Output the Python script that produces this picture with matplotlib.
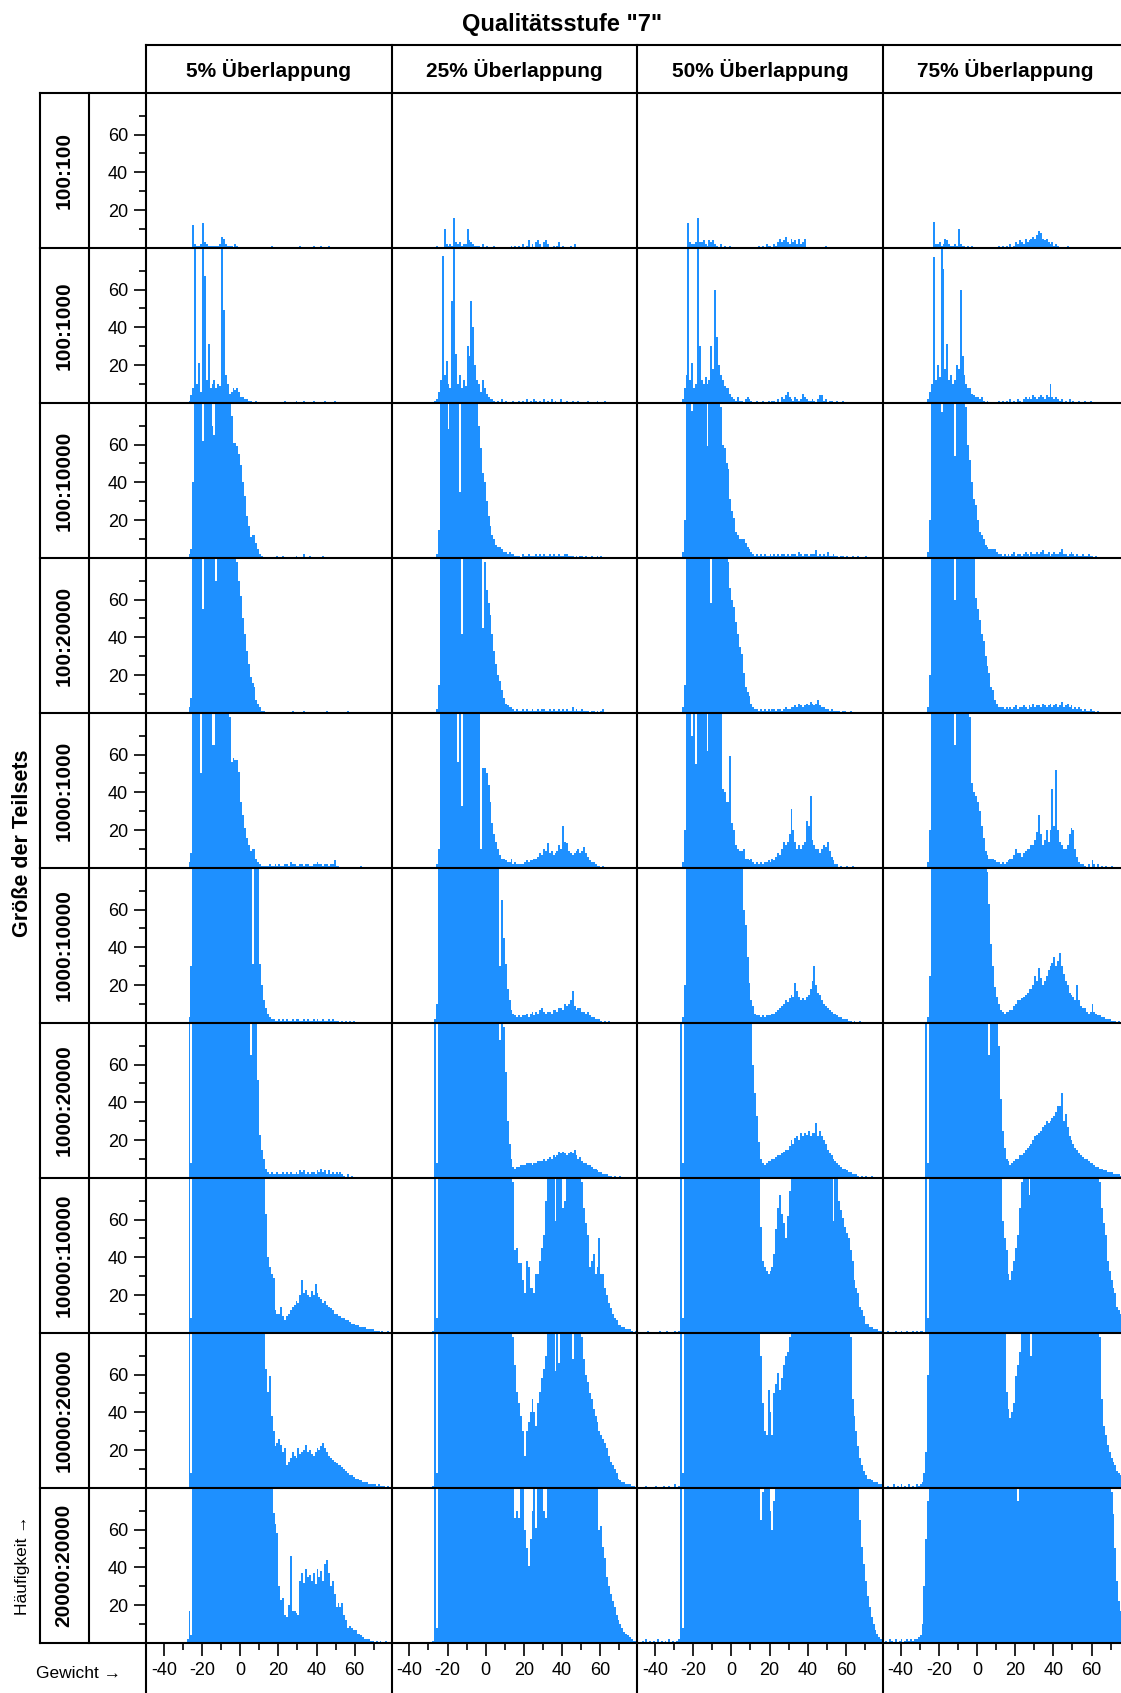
import numpy as np
import matplotlib
matplotlib.use("Agg")
import matplotlib.pyplot as plt

plt.rcParams["font.family"] = ["Liberation Sans", "DejaVu Sans"]

# ---------------------------------------------------------------- texts
title = 'Qualitätsstufe "7"'
overlaps = ["5% Überlappung", "25% Überlappung", "50% Überlappung", "75% Überlappung"]
subset_sizes = ["100:100", "100:1000", "100:10000", "100:20000", "1000:1000",
                "1000:10000", "1000:20000", "10000:10000", "10000:20000", "20000:20000"]
x_label = "Gewicht \u2192"
y_label = "Häufigkeit \u2192"
row_title = "Größe der Teilsets"

# histogram bins: width 1, from -48 to 80 (128 bins); counts above 82 run off the panel
bin_edges = np.arange(-48, 81)
x_major = [-40, -20, 0, 20, 40, 60]
x_minor = [-30, -10, 10, 30, 50, 70]
y_major = [20, 40, 60]
y_minor = [10, 30, 50, 70]

# ---------------------------------------------------------------- counts per subset size, one list per overlap
row_100_100 = [
    [0,0,0,0,0,0,0,0, 0,0,0,0,0,0,0,0, 0,0,0,0,0,0,0,12, 2,1,1,2,13,3,2,1,
     1,1,1,1,1,2,6,5, 2,1,1,1,0,2,1,0, 0,0,0,0,0,0,0,0, 0,0,0,0,0,0,0,0,
     1,0,0,0,0,0,0,0, 0,0,0,0,0,0,0,1, 0,0,0,0,0,0,1,0, 0,0,1,0,0,0,1,0,
     0,0,0,0,0,0,0,0, 0,0,0,0,0,0,0,0, 0,0,0,0,0,0,0,0, 0,0,0,0,0,0,0,0],
    [0,0,0,0,0,0,0,0, 0,0,0,0,0,0,0,0, 0,0,0,0,0,0,1,0, 0,0,10,2,1,2,1,16,
     3,2,3,1,2,2,10,4, 3,2,1,1,1,0,2,0, 1,0,0,0,1,0,0,0, 0,0,0,0,0,1,0,1,
     0,1,0,2,0,1,4,0, 2,0,3,4,2,0,3,4, 2,0,0,1,0,1,3,0, 1,0,0,0,1,0,2,0,
     0,0,0,0,0,0,0,0, 0,0,0,0,0,0,0,0, 0,0,0,0,0,0,0,0, 0,0,0,0,0,0,0,0],
    [0,0,0,0,0,0,0,0, 0,0,0,0,0,0,0,0, 0,0,0,0,0,0,0,0, 0,13,3,2,2,3,16,3,
     3,4,2,1,4,3,4,2, 1,0,2,0,1,0,0,1, 0,0,0,0,0,0,0,0, 0,0,0,0,0,0,1,0,
     1,0,2,1,1,0,2,1, 3,5,3,4,6,3,2,5, 3,4,2,5,2,3,5,0, 0,0,0,0,0,0,0,0,
     0,1,0,0,0,0,0,0, 0,0,0,0,0,0,0,0, 0,0,0,0,0,0,0,0, 0,0,0,0,0,0,0,0],
    [0,0,0,0,0,0,0,0, 0,0,0,0,0,0,0,0, 0,0,0,0,0,0,0,0, 0,14,2,2,3,1,2,5,
     4,2,1,1,2,1,10,2, 1,1,0,1,0,1,0,0, 0,0,0,0,0,0,0,0, 0,0,0,1,0,1,0,1,
     0,2,0,1,3,2,4,3, 2,5,3,4,5,6,5,7, 9,8,5,4,5,3,2,3, 1,2,1,0,0,0,0,1,
     0,0,0,0,0,0,0,0, 0,0,0,0,0,0,0,0, 0,0,0,0,0,0,0,0, 0,0,0,0,0,0,0,0],
]

row_100_1000 = [
    [0,0,0,0,0,0,0,0, 0,0,0,0,0,0,0,0, 0,0,0,0,0,1,4,8, 99,10,21,6,99,67,12,31,
     8,10,12,8,10,9,99,49, 15,10,5,6,8,7,8,6, 3,3,2,2,1,1,0,0, 1,0,0,0,0,0,0,0,
     0,0,0,0,0,0,0,1, 0,0,0,0,0,1,0,0, 0,1,0,0,0,0,1,0, 0,0,0,0,1,0,0,0,
     0,1,0,0,0,0,0,0, 0,0,0,0,0,0,0,0, 0,0,0,0,0,0,0,0, 0,0,0,0,0,0,0,0],
    [0,0,0,0,0,0,0,0, 0,0,0,0,0,0,0,0, 0,0,0,0,0,1,2,6, 12,78,15,22,10,8,54,99,
     26,10,15,8,12,9,30,25, 54,40,20,12,10,6,12,8, 5,3,2,2,1,0,1,0, 2,0,1,0,0,0,1,0,
     0,1,0,1,0,2,0,1, 0,2,1,0,1,0,2,0, 1,0,2,0,1,0,0,2, 0,0,1,0,0,1,0,0,
     1,0,0,0,0,1,0,0, 0,0,1,0,0,0,1,0, 0,0,0,0,0,0,0,0, 0,0,0,0,0,0,0,0],
    [0,0,0,0,0,0,0,0, 0,0,0,0,0,0,0,0, 0,0,0,0,0,0,2,8, 15,99,12,21,8,10,99,30,
     12,10,14,10,12,30,18,60, 35,20,15,12,9,8,8,5, 3,2,1,3,1,1,0,2, 3,2,1,0,0,1,0,0,
     1,0,0,1,0,1,1,0, 2,0,3,2,4,6,3,2, 1,3,2,1,2,5,3,2, 1,1,2,1,0,2,4,4,
     1,2,0,1,1,0,0,1, 0,0,1,0,0,0,0,0, 0,0,0,0,0,0,0,0, 0,0,0,0,0,0,0,0],
    [0,0,0,0,0,0,0,0, 0,0,0,0,0,0,0,0, 0,0,0,0,0,0,2,6, 10,77,12,20,14,99,71,18,
     31,12,15,10,12,20,18,60, 25,15,10,8,8,5,4,3, 3,2,3,1,0,1,0,0, 0,0,0,1,0,1,0,1,
     0,2,0,1,0,2,1,0, 2,3,2,3,2,4,3,2, 3,4,3,2,4,3,10,3, 2,3,2,1,2,0,1,0,
     2,0,1,0,0,1,0,0, 1,0,0,1,0,0,0,0, 0,0,0,0,0,0,0,0, 0,0,0,0,0,0,0,0],
]

row_100_10000 = [
    [0,0,0,0,0,0,0,0, 0,0,0,0,0,0,0,0, 0,0,0,0,0,2,5,40, 99,99,99,99,62,99,99,99,
     99,70,65,99,99,99,99,99, 99,99,99,75,61,61,59,55, 49,40,33,22,17,11,12,12, 8,5,2,1,0,0,0,0,
     0,0,0,1,0,0,1,0, 0,0,0,0,0,1,0,0, 0,2,0,0,1,0,0,0, 0,0,0,1,0,0,0,0,
     0,0,0,0,0,0,0,0, 0,0,0,0,0,0,0,0, 0,0,0,0,0,0,0,0, 0,0,0,0,0,0,0,0],
    [0,0,0,0,0,0,0,0, 0,0,0,0,0,0,0,0, 0,0,0,0,0,0,2,15, 99,99,99,99,68,99,99,99,
     99,99,35,99,99,99,99,99, 99,99,99,99,70,58,45,40, 30,22,17,12,10,7,6,6, 5,3,3,2,3,2,2,1,
     1,1,0,2,1,1,2,1, 1,1,2,1,2,1,2,1, 1,2,1,2,1,1,2,1, 1,2,2,1,1,1,0,1,
     0,1,1,0,1,0,0,1, 0,0,1,0,1,0,0,0, 0,0,0,0,0,0,0,0, 0,0,0,0,0,0,0,0],
    [0,0,0,0,0,0,0,0, 0,0,0,0,0,0,0,0, 0,0,0,0,0,0,3,20, 99,99,99,78,99,99,99,99,
     99,99,99,59,99,99,99,99, 99,99,80,60,58,50,47,31, 25,21,14,12,10,10,10,8, 6,5,3,2,1,2,1,2,
     1,2,1,1,2,1,2,1, 2,1,2,2,1,2,1,2, 2,2,1,3,2,1,2,2, 1,2,2,2,4,1,2,1,
     2,1,3,1,1,2,1,1, 0,1,1,0,1,0,0,1, 0,0,1,0,0,0,1,0, 0,0,0,0,0,0,0,0],
    [0,0,0,0,0,0,0,0, 0,0,0,0,0,0,0,0, 0,0,0,0,0,0,3,20, 99,99,99,99,99,77,99,99,
     99,99,99,99,54,99,99,99, 99,99,80,60,52,40,31,28, 20,14,12,10,7,6,5,5, 5,5,3,2,2,1,2,1,
     2,1,2,3,1,2,2,1, 2,3,2,1,3,2,2,3, 2,3,4,2,2,3,1,2, 3,2,2,3,5,2,2,1,
     2,3,2,1,2,1,1,2, 1,1,2,1,1,0,1,0, 0,0,0,0,0,0,0,0, 0,0,0,0,0,0,0,0],
]

row_100_20000 = [
    [0,0,0,0,0,0,0,0, 0,0,0,0,0,0,0,0, 0,0,0,0,0,3,8,99, 99,99,99,99,55,99,99,99,
     99,99,99,70,99,99,99,99, 99,99,99,99,99,90,80,70, 62,50,42,33,26,19,16,14, 7,5,3,1,1,0,0,0,
     0,0,0,0,0,0,0,0, 0,0,0,1,0,0,0,0, 0,1,0,0,0,0,0,0, 0,0,0,0,0,1,0,0,
     0,0,0,0,0,0,0,0, 1,0,0,0,0,0,0,0, 0,0,0,0,0,0,0,0, 0,0,0,0,0,0,0,0],
    [0,0,0,0,0,0,0,0, 0,0,0,0,0,0,0,0, 0,0,0,0,0,0,2,15, 99,99,99,99,99,99,99,99,
     99,99,99,42,99,99,99,99, 99,99,99,99,99,99,45,80, 65,58,52,42,33,26,20,17, 12,8,5,4,3,3,2,1,
     2,1,1,2,1,2,1,1, 2,1,1,2,1,2,2,1, 1,2,1,2,1,1,2,1, 2,1,2,1,1,3,1,2,
     1,1,2,1,1,1,0,1, 1,0,1,0,1,2,0,0, 0,0,0,0,0,0,0,0, 0,0,0,0,0,0,0,0],
    [0,0,0,0,0,0,0,0, 0,0,0,0,0,0,0,0, 0,0,0,0,0,0,3,15, 99,99,99,99,99,99,99,99,
     99,99,99,99,99,58,99,99, 99,99,99,99,99,99,80,66, 60,56,48,42,35,31,21,14, 11,9,5,3,2,2,1,2,
     1,2,1,2,1,2,2,1, 2,2,1,2,3,2,2,3, 3,4,3,5,4,3,4,5, 4,6,5,4,5,7,4,3,
     3,2,2,1,2,1,1,1, 1,0,1,1,0,0,1,0, 0,0,0,0,0,0,0,0, 0,0,0,0,0,0,0,0],
    [0,0,0,0,0,0,0,0, 0,0,0,0,0,0,0,0, 0,0,0,0,0,0,3,20, 99,99,99,99,99,99,99,99,
     99,99,99,99,60,99,99,99, 99,99,99,99,99,99,85,61, 55,49,42,38,30,25,21,14, 12,7,5,3,3,3,2,3,
     2,3,2,3,4,2,3,3, 4,3,2,4,3,5,3,4, 4,3,5,4,3,4,5,3, 4,5,3,4,6,3,4,5,
     3,4,2,3,2,3,2,1, 2,1,1,2,1,1,0,1, 0,0,0,0,0,0,0,0, 0,0,0,0,0,0,0,0],
]

row_1000_1000 = [
    [0,0,0,0,0,0,0,0, 0,0,0,0,0,0,0,0, 0,0,0,0,0,3,8,99, 99,99,99,50,99,99,99,99,
     99,65,65,99,99,99,99,99, 99,99,80,56,58,57,57,51, 35,28,21,16,12,9,10,10, 5,3,2,1,1,1,1,2,
     1,1,2,1,2,1,1,2, 2,1,3,2,2,1,1,2, 2,1,2,2,1,1,2,2, 3,2,2,1,2,2,1,2,
     2,4,1,1,0,0,0,0, 0,0,0,0,0,0,0,1, 0,0,0,0,0,0,0,0, 0,0,0,0,0,0,0,0],
    [0,0,0,0,0,0,0,0, 0,0,0,0,0,0,0,0, 0,0,0,0,0,0,2,10, 99,99,99,99,99,99,99,99,
     99,56,99,33,99,99,99,99, 99,99,99,99,99,10,53,53, 50,44,35,24,18,14,10,7, 5,5,4,3,3,5,2,3,
     2,2,2,2,3,4,3,4, 4,5,5,6,8,7,10,9, 13,8,9,7,8,9,12,10, 22,14,13,9,8,7,8,9,
     10,8,9,11,8,6,4,3, 3,2,1,1,0,1,0,0, 0,0,0,0,0,0,0,0, 0,0,0,0,0,0,0,0],
    [0,0,0,0,0,0,0,0, 0,0,0,0,0,0,0,0, 0,0,0,0,0,0,3,20, 99,99,99,70,99,55,99,99,
     99,99,99,62,99,99,99,99, 99,99,99,42,40,35,35,59, 24,20,12,10,9,9,10,5, 5,4,5,3,2,3,2,3,
     2,3,3,4,3,5,4,6, 8,7,10,14,12,14,18,31, 20,14,10,12,10,12,14,25, 22,38,15,12,10,10,8,10,
     12,11,14,9,6,4,2,2, 0,1,0,0,1,0,0,1, 0,0,0,0,0,0,0,0, 0,0,0,0,0,0,0,0],
    [0,0,0,0,0,0,0,0, 0,0,0,0,0,0,0,0, 0,0,0,0,0,0,3,20, 99,99,99,99,99,99,99,99,
     99,99,99,99,65,99,99,99, 99,99,99,99,80,45,40,38, 35,30,22,16,9,7,5,5, 5,4,3,3,2,3,2,3,
     4,5,5,7,10,8,8,6, 8,9,10,10,12,12,15,19, 28,18,12,15,20,14,20,42, 22,52,20,14,12,10,10,12,
     18,21,20,10,6,3,2,2, 1,0,2,0,4,2,0,2, 0,1,0,1,0,0,1,0, 0,0,0,0,0,0,0,0],
]

row_1000_10000 = [
    [0,0,0,0,0,0,0,0, 0,0,0,0,0,0,0,0, 0,0,0,0,0,3,30,99, 99,99,99,99,99,99,99,99,
     99,99,99,99,99,99,99,99, 99,99,99,99,99,99,99,99, 99,99,99,99,99,99,31,99, 99,99,31,20,12,8,5,3,
     2,2,1,1,2,1,2,1, 2,1,1,2,1,2,2,1, 1,2,1,2,1,1,2,1, 2,1,1,2,1,1,2,1,
     2,1,1,1,0,1,0,1, 0,1,0,1,0,0,0,0, 0,0,0,0,0,0,0,0, 0,0,0,0,0,0,0,0],
    [0,0,0,0,0,0,0,0, 0,0,0,0,0,0,0,0, 0,0,0,0,0,2,10,99, 99,99,99,99,99,99,99,99,
     99,99,99,99,99,99,99,99, 99,99,99,99,99,99,99,99, 99,99,99,99,99,99,99,30, 65,45,31,18,12,7,5,4,
     3,4,3,4,4,5,3,5, 6,4,6,5,7,8,6,5, 6,6,5,7,7,6,8,8, 7,10,9,10,12,17,9,7,
     8,8,6,6,5,6,4,3, 3,2,2,2,1,0,1,0, 1,0,0,0,0,0,0,0, 0,0,0,0,0,0,0,0],
    [0,0,0,0,0,0,0,0, 0,0,0,0,0,0,0,0, 0,0,0,0,0,0,3,20, 99,99,99,99,99,99,99,99,
     99,99,99,99,99,99,99,99, 99,99,99,99,99,99,99,99, 99,99,99,99,99,99,60,52, 35,21,12,9,5,4,4,3,
     4,3,4,4,4,5,5,6, 7,8,9,10,12,11,13,15, 14,21,17,14,12,13,12,14, 15,18,22,30,20,16,15,12,
     10,9,8,7,6,5,5,4, 3,3,2,2,2,1,1,0, 1,0,0,1,0,0,0,0, 0,0,0,0,0,0,0,0],
    [0,0,0,0,0,0,0,0, 0,0,0,0,0,0,0,0, 0,0,0,0,0,0,3,25, 99,99,99,99,99,99,99,99,
     99,99,99,99,99,99,99,99, 99,99,99,99,99,99,99,99, 99,99,99,99,99,80,63,42, 30,19,14,10,7,6,5,6,
     6,7,7,9,10,12,12,13, 14,15,16,18,18,20,25,22, 29,24,20,22,25,28,30,32, 35,30,33,37,30,26,22,20,
     16,15,14,12,20,12,9,8, 8,6,5,6,10,6,5,4, 4,3,3,2,2,2,1,1, 1,0,1,0,0,0,0,0],
]

row_1000_20000 = [
    [0,0,0,0,0,0,0,0, 0,0,0,0,0,0,0,0, 0,0,0,0,0,99,8,99, 99,99,99,99,99,99,99,99,
     99,99,99,99,99,99,99,99, 99,99,99,99,99,99,99,99, 99,99,99,99,99,65,99,99, 99,52,23,15,10,5,3,2,
     3,2,2,3,2,2,3,2, 3,2,3,2,2,3,2,4, 3,4,2,3,2,3,3,2, 4,3,5,3,4,2,4,2,
     3,2,3,2,3,2,1,0, 2,0,1,0,0,0,0,0, 0,0,0,0,0,0,0,0, 0,0,0,0,0,0,0,0],
    [0,0,0,0,0,0,0,0, 0,0,0,0,0,0,0,0, 0,0,0,0,0,99,8,99, 99,99,99,99,99,99,99,99,
     99,99,99,99,99,99,99,99, 99,99,99,99,99,99,99,99, 99,99,99,99,99,99,99,73, 99,80,56,30,18,10,6,5,
     6,6,7,7,7,8,8,8, 7,8,8,9,9,9,10,9, 10,11,10,12,11,12,14,13, 14,13,12,13,14,13,15,12,
     10,11,9,8,8,7,7,6, 5,5,4,3,3,2,2,2, 1,1,0,1,0,0,1,0, 0,0,0,0,0,0,0,0],
    [0,0,0,0,0,0,0,0, 0,0,0,0,0,0,0,0, 0,0,0,0,0,99,8,99, 99,99,99,99,99,99,99,99,
     99,99,99,99,99,99,99,99, 99,99,99,99,99,99,99,99, 99,99,99,99,99,99,99,99, 99,99,99,60,45,33,19,10,
     8,7,8,9,9,10,10,11, 12,12,13,14,15,15,17,20, 18,21,22,20,24,22,24,23, 25,22,24,24,29,22,25,22,
     20,18,15,13,12,10,9,8, 7,6,5,5,4,3,3,2, 2,2,1,0,1,0,1,0, 0,1,0,0,0,0,0,0],
    [0,0,0,0,0,0,0,0, 0,0,0,0,0,0,0,0, 0,0,0,0,0,99,8,99, 99,99,99,99,99,99,99,99,
     99,99,99,99,99,99,99,99, 99,99,99,99,99,99,99,99, 99,99,99,99,99,99,65,99, 99,99,99,70,42,25,16,10,
     9,7,8,9,10,10,12,12, 13,15,16,17,18,20,22,23, 24,25,27,28,30,29,30,32, 33,35,38,38,45,30,34,27,
     22,20,18,16,15,13,12,11, 10,10,9,8,8,7,6,6, 5,5,4,4,3,3,3,2, 2,2,2,1,1,1,0,0],
]

row_10000_10000 = [
    [0,0,0,0,0,0,0,0, 0,0,0,0,0,0,0,0, 0,0,0,0,0,99,8,99, 99,99,99,99,99,99,99,99,
     99,99,99,99,99,99,99,99, 99,99,99,99,99,99,99,99, 99,99,99,99,99,99,99,99, 99,99,99,99,99,63,40,35,
     31,29,12,10,10,14,9,7, 9,10,12,14,15,17,16,20, 28,21,23,20,19,22,20,26, 21,19,18,16,17,15,14,13,
     12,10,10,9,9,8,8,7, 7,6,5,5,4,4,3,3, 3,3,2,2,2,2,1,1, 1,0,1,0,0,1,0,0],
    [0,0,0,0,0,0,0,0, 0,0,0,0,0,0,0,0, 0,0,0,0,1,99,8,99, 99,99,99,99,99,99,99,99,
     99,99,99,99,99,99,99,99, 99,99,99,99,99,99,99,99, 99,99,99,99,99,99,99,99, 99,99,99,99,99,99,80,44,
     45,37,37,28,21,38,35,24, 24,21,31,31,38,45,52,70, 99,99,99,99,59,99,99,99, 66,70,99,99,99,99,99,99,
     99,99,80,66,58,52,35,38, 42,31,35,50,31,31,24,20, 16,13,10,8,7,4,4,3, 3,2,2,2,1,0,1,0],
    [0,0,0,0,1,0,0,0, 0,0,1,0,0,0,1,0, 0,0,1,0,1,99,8,99, 99,99,99,99,99,99,99,99,
     99,99,99,99,99,99,99,99, 99,99,99,99,99,99,99,99, 99,99,99,99,99,99,99,99, 99,99,99,99,99,99,99,56,
     38,35,33,31,33,35,42,55, 66,73,63,58,50,62,75,99, 99,99,99,99,99,99,99,99, 99,99,99,99,99,99,99,99,
     99,99,99,99,99,59,99,85, 70,65,61,56,53,50,44,38, 28,24,21,14,12,9,5,5, 3,3,2,2,2,1,1,0],
    [0,1,0,0,0,1,0,0, 1,0,0,1,0,0,1,0, 1,0,1,1,0,99,8,99, 99,99,99,99,99,99,99,99,
     99,99,99,99,99,99,99,99, 99,99,99,99,99,99,99,99, 99,99,99,99,99,99,99,99, 99,99,99,99,99,59,50,44,
     31,28,33,38,45,52,66,80, 99,99,99,73,99,99,99,99, 99,99,99,99,99,99,99,99, 99,99,99,99,99,99,99,99,
     99,99,99,99,99,99,99,99, 99,99,99,99,99,99,99,99, 80,66,58,52,38,33,28,24, 21,14,12,10,9,7,5,4],
]

row_10000_20000 = [
    [0,0,0,0,0,0,0,0, 0,0,0,0,0,0,0,0, 0,0,0,0,0,99,8,99, 99,99,99,99,99,99,99,99,
     99,99,99,99,99,99,99,99, 99,99,99,99,99,99,99,99, 99,99,99,99,99,99,99,99, 99,99,99,99,99,63,51,59,
     38,30,22,24,26,23,19,21, 12,14,16,19,17,16,21,18, 19,20,23,19,20,18,17,19, 21,20,22,24,21,19,17,16,
     15,14,13,12,12,11,10,9, 8,7,7,6,5,5,4,4, 3,3,3,2,2,2,2,1, 2,1,1,1,0,1,0,0],
    [0,0,0,0,0,0,0,0, 0,0,0,0,0,0,0,0, 0,0,0,0,1,99,8,99, 99,99,99,99,99,99,99,99,
     99,99,99,99,99,99,99,99, 99,99,99,99,99,99,99,99, 99,99,99,99,99,99,99,99, 99,99,99,99,99,99,80,65,
     51,45,38,30,17,30,35,40, 47,40,33,45,51,58,63,70, 99,99,99,99,62,99,66,99, 99,99,99,99,99,68,99,99,
     99,99,80,68,60,56,50,47, 42,38,35,30,28,26,24,21, 17,14,12,10,8,5,4,3, 3,2,2,2,1,1,0,1],
    [0,0,0,1,0,0,0,0, 1,0,0,0,1,0,0,1, 0,0,2,0,1,99,8,99, 99,99,99,99,99,99,99,99,
     99,99,99,99,99,99,99,99, 99,99,99,99,99,99,99,99, 99,99,99,99,99,99,99,99, 99,99,99,99,99,99,99,70,
     45,30,28,52,40,28,50,55, 61,52,58,65,70,72,80,99, 99,99,99,99,99,99,99,99, 99,99,99,99,99,99,99,99,
     99,99,99,99,99,99,99,99, 99,99,99,99,99,99,80,47, 38,30,22,16,12,9,7,5, 5,4,3,3,3,2,2,1],
    [0,1,0,0,2,0,1,0, 2,0,1,0,2,0,1,0, 2,1,2,3,8,19,60,99, 99,99,99,99,99,99,99,99,
     99,99,99,99,99,99,99,99, 99,99,99,99,99,99,99,99, 99,99,99,99,99,99,99,99, 99,99,99,99,99,99,99,51,
     42,37,40,45,59,65,72,99, 99,99,99,99,70,99,99,99, 99,99,99,99,99,99,99,99, 99,99,99,99,99,99,99,99,
     99,99,99,99,99,99,99,99, 99,99,99,99,99,99,99,99, 80,47,33,28,23,19,16,14, 12,9,8,7,5,4,3,3],
]

row_20000_20000 = [
    [0,0,0,0,0,0,0,0, 0,0,0,0,0,0,0,0, 0,0,0,0,2,17,4,99, 99,99,99,99,99,99,99,99,
     99,99,99,99,99,99,99,99, 99,99,99,99,99,99,99,99, 99,99,99,99,99,99,99,99, 99,99,99,99,99,99,99,99,
     99,69,63,58,30,23,24,15, 14,20,46,17,17,16,15,33, 37,32,39,35,36,33,37,31, 39,35,38,33,42,44,37,30,
     33,26,19,21,19,21,15,12, 8,9,8,7,7,5,5,4, 3,2,2,2,1,1,0,1, 0,1,0,0,1,0,0,0],
    [0,0,0,0,0,0,0,0, 0,0,0,0,0,0,0,0, 0,0,0,0,1,99,8,99, 99,99,99,99,99,99,99,99,
     99,99,99,99,99,99,99,99, 99,99,99,99,99,99,99,99, 99,99,99,99,99,99,99,99, 99,99,99,99,99,99,99,66,
     70,66,99,99,60,50,41,55, 70,99,61,99,99,99,70,66, 99,99,99,99,99,99,99,99, 99,99,99,99,99,99,99,99,
     99,99,99,99,99,99,99,99, 99,99,85,60,62,51,45,35, 30,26,22,19,15,12,10,8, 6,5,4,3,2,1,1,0],
    [0,1,0,2,0,1,0,1, 0,2,0,1,0,1,0,2, 0,1,0,1,2,99,8,99, 99,99,99,99,99,99,99,99,
     99,99,99,99,99,99,99,99, 99,99,99,99,99,99,99,99, 99,99,99,99,99,99,99,99, 99,99,99,99,99,99,99,65,
     80,99,99,99,70,60,75,99, 99,99,99,99,99,99,99,99, 99,99,99,99,99,99,99,99, 99,99,99,99,99,99,99,99,
     99,99,99,99,99,99,99,99, 99,99,99,99,99,99,99,99, 99,99,85,65,51,42,33,25, 19,14,10,7,5,3,2,1],
    [1,0,2,1,0,2,0,1, 2,0,1,2,1,2,1,2, 2,3,4,10,30,55,75,99, 99,99,99,99,99,99,99,99,
     99,99,99,99,99,99,99,99, 99,99,99,99,99,99,99,99, 99,99,99,99,99,99,99,99, 99,99,99,99,99,99,99,99,
     99,99,99,99,99,75,99,99, 99,99,99,99,99,99,99,99, 99,99,99,99,99,99,99,99, 99,99,99,99,99,99,99,99,
     99,99,99,99,99,99,99,99, 99,99,99,99,99,99,99,99, 99,99,99,99,99,90,80,68, 50,33,22,17,15,10,7,5],
]

counts_by_size = [row_100_100, row_100_1000, row_100_10000, row_100_20000,
                  row_1000_1000, row_1000_10000, row_1000_20000,
                  row_10000_10000, row_10000_20000, row_20000_20000]

# ---------------------------------------------------------------- layout (pixels)
W, H, DPI = 1121, 1693, 100
LABEL_L, TICKS_L, GRID_L = 40, 88.5, 146
COL_W, ROW_H = 245.6, 155
HEAD_T, GRID_T = 45, 93
GRID_B = GRID_T + 10 * ROW_H
BAR_COLOR = "#1E90FF"
LINE_W = 1.5

fig = plt.figure(figsize=(W / DPI, H / DPI), dpi=DPI)
fig.patch.set_facecolor("white")

for r, size_row in enumerate(counts_by_size):
    for c, counts in enumerate(size_row):
        x0 = GRID_L + c * COL_W
        y_bottom = GRID_T + (r + 1) * ROW_H
        ax = fig.add_axes([x0 / W, 1 - y_bottom / H, COL_W / W, ROW_H / H])
        ax.stairs(counts, bin_edges, fill=True, color=BAR_COLOR, linewidth=0)
        ax.set_xlim(-49.3, 79.3)
        ax.set_ylim(0, 82)
        ax.set_frame_on(False)
        ax.set_facecolor("none")
        if c == 0:
            ax.set_yticks(y_major)
            ax.set_yticks(y_minor, minor=True)
            ax.tick_params(axis="y", which="major", direction="out", length=9,
                           width=1.2, labelsize=13, pad=4)
            ax.tick_params(axis="y", which="minor", direction="out", length=5, width=1.2)
        else:
            ax.set_yticks([])
        if r == 9:
            ax.set_xticks(x_major)
            ax.set_xticks(x_minor, minor=True)
            ax.set_xticklabels([str(v) for v in x_major])
            ax.tick_params(axis="x", which="major", direction="out", length=9,
                           width=1.2, labelsize=13, pad=5)
            ax.tick_params(axis="x", which="minor", direction="out", length=5, width=1.2)
        else:
            ax.set_xticks([])

# frame lines and labels, drawn in pixel coordinates on top
ov = fig.add_axes([0, 0, 1, 1], zorder=10)
ov.set_xlim(0, W)
ov.set_ylim(H, 0)
ov.axis("off")

def hline(y, x0, x1):
    ov.plot([x0, x1], [y, y], color="black", lw=LINE_W, solid_capstyle="projecting")

def vline(x, y0, y1):
    ov.plot([x, x], [y0, y1], color="black", lw=LINE_W, solid_capstyle="projecting")

hline(HEAD_T, GRID_L, W + 5)
for k in range(11):
    hline(GRID_T + k * ROW_H, LABEL_L, W + 5)
vline(LABEL_L, GRID_T, GRID_B)
vline(TICKS_L, GRID_T, GRID_B)
for c in range(4):
    vline(GRID_L + c * COL_W, HEAD_T, H + 5)

ov.text(562, 24, title, ha="center", va="center", fontsize=17, fontweight="bold")
for c, name in enumerate(overlaps):
    ov.text(GRID_L + (c + 0.5) * COL_W, 70, name, ha="center", va="center",
            fontsize=15, fontweight="bold")
for r, name in enumerate(subset_sizes):
    ov.text((LABEL_L + TICKS_L) / 2, GRID_T + (r + 0.5) * ROW_H, name, rotation=90,
            ha="center", va="center", fontsize=15, fontweight="bold")
ov.text(23, 843, row_title, rotation=90, ha="center", va="center",
        fontsize=15.5, fontweight="bold")
ov.text(23, 1565, y_label, rotation=90, ha="center", va="center", fontsize=12.5)
ov.text(78, 1673, x_label, ha="center", va="center", fontsize=12.5)

fig.savefig("out.png", dpi=DPI)
